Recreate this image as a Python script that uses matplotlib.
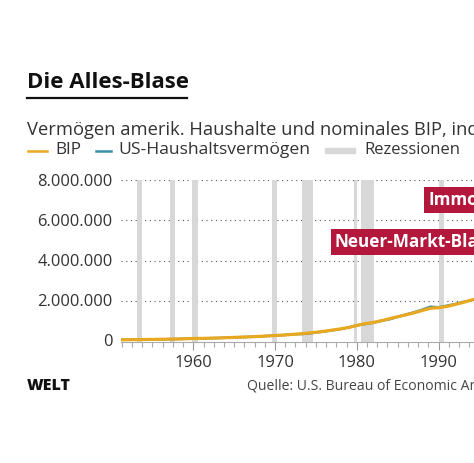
import matplotlib
matplotlib.use("Agg")
import matplotlib.pyplot as plt
from matplotlib.lines import Line2D
from matplotlib.patches import Rectangle
from matplotlib.ticker import FuncFormatter, MultipleLocator

plt.rcParams['font.family'] = ['Open Sans', 'DejaVu Sans']

# ---------------- data ----------------
years = list(range(1951, 1996))
bip = [0.035, 0.04, 0.045, 0.05, 0.055, 0.06, 0.07, 0.075, 0.085, 0.10,
       0.105, 0.115, 0.125, 0.14, 0.155, 0.17, 0.185, 0.205, 0.225, 0.25,
       0.27, 0.30, 0.33, 0.37, 0.41, 0.46, 0.52, 0.58, 0.65, 0.75,
       0.84, 0.90, 0.99, 1.09, 1.19, 1.28, 1.38, 1.50, 1.61, 1.64,
       1.70, 1.80, 1.90, 2.02, 2.12]
vermoegen = [0.035, 0.04, 0.045, 0.05, 0.055, 0.06, 0.065, 0.075, 0.085, 0.10,
             0.105, 0.115, 0.125, 0.14, 0.155, 0.17, 0.185, 0.205, 0.225, 0.25,
             0.27, 0.31, 0.32, 0.34, 0.40, 0.45, 0.51, 0.57, 0.65, 0.76,
             0.82, 0.89, 0.98, 1.06, 1.18, 1.30, 1.41, 1.54, 1.69, 1.66,
             1.74, 1.82, 1.93, 2.01, 2.15]
bip = [v * 1e6 for v in bip]
vermoegen = [v * 1e6 for v in vermoegen]

rezessionen = [(1953.1, 1953.75), (1957.1, 1957.8), (1959.85, 1960.55),
               (1969.6, 1970.25), (1973.25, 1974.7), (1979.65, 1980.05),
               (1980.55, 1982.1), (1990.0, 1990.7)]

y_ticks = [0, 2e6, 4e6, 6e6, 8e6]
x_ticks = [1960, 1970, 1980, 1990]

annotations = [("Neuer-Markt-Blase", 1977.33, 4.93e6),
               ("Immobilienblase", 1988.74, 7.03e6)]

title = "Die Alles-Blase"
subtitle = "Vermögen amerik. Haushalte und nominales BIP, indexiert"
source = "Quelle: U.S. Bureau of Economic Analysis, Federal Reserve"

# ---------------- layout ----------------
W, H = 474, 463
fig = plt.figure(figsize=(W / 100, H / 100), dpi=100)

GOLD = '#e8a820'
TEAL = '#3b8fa6'
GREY = '#d8d8d8'
RED = '#b3173c'
TXT = '#333333'

x0 = 1951.15
x1 = 2021.0
px_per_year = 8.173
left_px, top_px, bottom_px = 121, 180.5, 341.5
ax_w = (x1 - x0) * px_per_year / W
ax = fig.add_axes([left_px / W, 1 - bottom_px / H, ax_w, (bottom_px - top_px) / H])
ax.set_xlim(x0, x1)
ax.set_ylim(-0.05e6, 8e6)

for a, b in rezessionen:
    ax.axvspan(a, b, color=GREY, lw=0, zorder=1)

for yv in y_ticks[1:]:
    ax.axhline(yv, color='#555555', lw=0.8, ls=(0, (1, 3.25)), zorder=0.5)

ax.plot(years, vermoegen, color=TEAL, lw=1.8, zorder=3, solid_capstyle='butt')
ax.plot(years, bip, color=GOLD, lw=2.3, zorder=4, solid_capstyle='butt')

for txt, xv, yv in annotations:
    ax.text(xv, yv, txt, color='white', fontsize=12.3, fontweight='bold',
            ha='left', va='center', zorder=6,
            bbox=dict(boxstyle='square,pad=0.25', fc=RED, ec='none'))

for s in ['top', 'right', 'left']:
    ax.spines[s].set_visible(False)
ax.spines['bottom'].set_color('#aaaaaa')
ax.spines['bottom'].set_linewidth(0.8)

ax.set_yticks(y_ticks)
ax.yaxis.set_major_formatter(FuncFormatter(lambda v, p: f"{int(v):,}".replace(",", ".")))
ax.tick_params(axis='y', length=0, pad=6, labelsize=11.9, labelcolor=TXT)
ax.set_xticks(x_ticks)
ax.xaxis.set_minor_locator(MultipleLocator(1.25))
ax.tick_params(axis='x', which='major', length=6, width=0.8, color='#999999',
               labelsize=11.9, labelcolor=TXT, pad=4)
ax.tick_params(axis='x', which='minor', length=3.5, width=0.8, color='#aaaaaa')

# ---------------- texts ----------------
def fy(px):
    return 1 - px / H

fig.text(27 / W, fy(88), title, fontsize=16.0, fontweight='bold', color='#111111',
         ha='left', va='baseline')
fig.add_artist(Line2D([27 / W, 187 / W], [fy(98.3)] * 2, color='#111111', lw=1.6))
fig.text(27 / W, fy(135), subtitle, fontsize=13.2, color=TXT, ha='left', va='baseline')

ly = fy(150.5)
fig.add_artist(Line2D([28 / W, 47 / W], [ly, ly], color=GOLD, lw=1.8))
fig.text(55 / W, ly, "BIP", fontsize=12.4, color=TXT, ha='left', va='center')
fig.add_artist(Line2D([96 / W, 111 / W], [ly, ly], color=TEAL, lw=1.8))
fig.text(118 / W, ly, "US-Haushaltsvermögen", fontsize=12.6, color=TXT, ha='left', va='center')
fig.add_artist(Rectangle((325 / W, ly - 2.5 / H), 30 / W, 5 / H, color=GREY,
                         transform=fig.transFigure))
fig.text(364 / W, ly, "Rezessionen", fontsize=12.0, color=TXT, ha='left', va='center')

fig.text(27 / W, fy(386.5), "WELT", fontsize=11.5, fontweight='extra bold', color='#111111',
         ha='left', va='center')
fig.text(247 / W, fy(386.5), source, fontsize=10.1, color='#444444', ha='left', va='center')

fig.savefig("out.png", dpi=100)
